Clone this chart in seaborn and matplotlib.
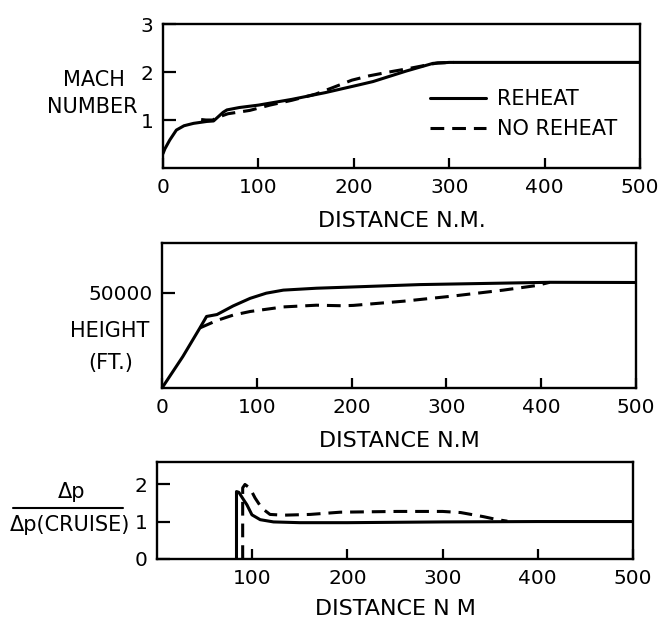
import matplotlib
matplotlib.use("Agg")
import matplotlib.pyplot as plt
import seaborn as sns
from matplotlib.lines import Line2D

# ---------------- data ----------------
mach_dist_reheat = [0, 2, 7, 14, 22, 32, 46, 53, 58, 63, 67, 80, 100, 135, 170, 205, 220, 255, 283, 300, 400, 500]
mach_reheat = [0.30, 0.40, 0.58, 0.79, 0.88, 0.93, 0.97, 0.98, 1.07, 1.16, 1.21, 1.26, 1.31, 1.43, 1.57, 1.73, 1.80, 2.02, 2.18, 2.20, 2.20, 2.20]
mach_dist_noreheat = [40, 45, 52, 58, 68, 91, 112, 135, 160, 176, 198, 216, 237, 257, 288, 305]
mach_noreheat = [1.01, 1.00, 1.00, 1.06, 1.13, 1.20, 1.31, 1.41, 1.54, 1.66, 1.83, 1.92, 2.00, 2.07, 2.19, 2.20]

h_dist_reheat = [0, 22, 40, 47, 58, 75, 93, 110, 128, 163, 198, 272, 409, 500]
h_reheat = [0, 16500, 31500, 37500, 38500, 43000, 47000, 49700, 51300, 52300, 52900, 54200, 55400, 55300]
h_dist_noreheat = [40, 58, 75, 93, 128, 163, 191, 202, 255, 307, 360, 395, 409]
h_noreheat = [31500, 35400, 38200, 40100, 42500, 43400, 43100, 43300, 45500, 48200, 51300, 53700, 55400]

dp_dist_reheat = [83.5, 83.5, 86, 88, 91, 94.4, 99.7, 108.4, 122.4, 150, 200, 300, 400, 500]
dp_reheat = [0.0, 1.80, 1.78, 1.70, 1.58, 1.45, 1.18, 1.05, 0.99, 0.97, 0.97, 0.99, 1.0, 1.0]
dp_dist_noreheat = [90, 90, 92.4, 97.7, 103, 110, 118.7, 132.7, 160.8, 192.6, 252, 300, 319, 343, 357.6, 368]
dp_noreheat = [0.0, 1.90, 1.99, 1.89, 1.63, 1.36, 1.19, 1.17, 1.19, 1.25, 1.27, 1.27, 1.24, 1.13, 1.05, 1.01]

x_ticks = [0, 100, 200, 300, 400, 500]
x_ticks_dp = [100, 200, 300, 400, 500]
mach_ticks = [1, 2, 3]
h_ticks = [50000]
dp_ticks = [0, 1, 2]

series_labels = ["REHEAT", "NO REHEAT"]
x_label_1 = "DISTANCE N.M."
x_label_2 = "DISTANCE N.M"
x_label_3 = "DISTANCE N M"

# ---------------- style ----------------
sns.set_theme(style="ticks")
plt.rcParams['font.family'] = ['DejaVu Sans']
plt.rcParams['axes.edgecolor'] = 'black'
plt.rcParams['axes.labelcolor'] = 'black'
plt.rcParams['text.color'] = 'black'
plt.rcParams['xtick.color'] = 'black'
plt.rcParams['ytick.color'] = 'black'
plt.rcParams['xtick.labelcolor'] = 'black'
plt.rcParams['ytick.labelcolor'] = 'black'

FS = 15
TFS = 14.5
LFS = 16
LW = 2.2
DASH = (0, (4.5, 2.6))

W, H = 658, 619
fig = plt.figure(figsize=(W / 100, H / 100), dpi=100)
fig.patch.set_facecolor('white')


def axes_px(l, t, r, b):
    return fig.add_axes([l / W, 1 - b / H, (r - l) / W, (b - t) / H])


def style_axes(ax, xlabel, labelpad):
    for sp in ax.spines.values():
        sp.set_visible(True)
        sp.set_linewidth(1.7)
        sp.set_color('black')
    ax.set_facecolor('white')
    ax.tick_params(axis='x', direction='in', length=7, width=1.6, pad=7,
                   labelsize=TFS, top=False, colors='black')
    ax.tick_params(axis='y', direction='in', length=9, width=1.6, pad=7,
                   labelsize=TFS, right=False, colors='black')
    ax.set_xlabel(xlabel, fontsize=LFS, labelpad=labelpad, color='black')
    ax.set_ylabel("")
    ax.grid(False)


ax1 = axes_px(163, 24, 640, 168)
ax2 = axes_px(162, 243, 636, 388)
ax3 = axes_px(157, 462, 633, 559)

# ---- panel 1: Mach number ----
sns.lineplot(x=mach_dist_reheat, y=mach_reheat, ax=ax1, color='black', lw=LW,
             estimator=None, sort=False, label=series_labels[0])
sns.lineplot(x=mach_dist_noreheat, y=mach_noreheat, ax=ax1, color='black', lw=LW,
             linestyle=DASH, estimator=None, sort=False, label=series_labels[1])
ax1.set_xlim(0, 500)
ax1.set_ylim(0, 3)
ax1.set_xticks(x_ticks)
ax1.set_xticklabels([str(v) for v in x_ticks])
ax1.set_yticks(mach_ticks)
ax1.set_yticklabels([str(v) for v in mach_ticks])
style_axes(ax1, x_label_1, 10)
handles = [Line2D([], [], color='black', lw=LW),
           Line2D([], [], color='black', lw=LW, linestyle=DASH)]
ax1.legend(handles, series_labels, loc='center left',
           bbox_to_anchor=((430 - 163) / 477, (168 - 114) / 144),
           frameon=False, fontsize=FS, handlelength=2.7, handletextpad=0.5,
           labelspacing=0.5, borderpad=0, borderaxespad=0)

# ---- panel 2: height ----
sns.lineplot(x=h_dist_reheat, y=h_reheat, ax=ax2, color='black', lw=LW,
             estimator=None, sort=False)
sns.lineplot(x=h_dist_noreheat, y=h_noreheat, ax=ax2, color='black', lw=LW,
             linestyle=DASH, estimator=None, sort=False)
ax2.set_xlim(0, 500)
ax2.set_ylim(0, 76000)
ax2.set_xticks(x_ticks)
ax2.set_xticklabels([str(v) for v in x_ticks])
ax2.set_yticks(h_ticks)
ax2.set_yticklabels([str(v) for v in h_ticks])
style_axes(ax2, x_label_2, 10)

# ---- panel 3: pressure ratio ----
sns.lineplot(x=dp_dist_reheat, y=dp_reheat, ax=ax3, color='black', lw=LW,
             estimator=None, sort=False)
sns.lineplot(x=dp_dist_noreheat, y=dp_noreheat, ax=ax3, color='black', lw=LW,
             linestyle=DASH, estimator=None, sort=False)
ax3.set_xlim(0, 500)
ax3.set_ylim(0, 2.59)
ax3.set_xticks(x_ticks_dp)
ax3.set_xticklabels([str(v) for v in x_ticks_dp])
ax3.set_yticks(dp_ticks)
ax3.set_yticklabels([str(v) for v in dp_ticks])
style_axes(ax3, x_label_3, 8)

for ax in (ax2, ax3):
    leg = ax.get_legend()
    if leg is not None:
        leg.remove()

# ---- left-hand labels ----
def ftext(x, y, s, **kw):
    fig.text(x / W, 1 - y / H, s, ha='center', va='center', fontsize=FS,
             color='black', **kw)

ftext(94, 80, "MACH")
ftext(92, 107, "NUMBER")
ftext(110, 331, "HEIGHT")
ftext(111, 363, "(FT.)")
ftext(72, 492, "Δp")
ftext(70, 525, "Δp(CRUISE)")
fig.add_artist(Line2D([13 / W, 123 / W], [1 - 508 / H, 1 - 508 / H],
                      color='black', lw=1.5, transform=fig.transFigure))

fig.savefig("out.png", dpi=100, facecolor='white')
